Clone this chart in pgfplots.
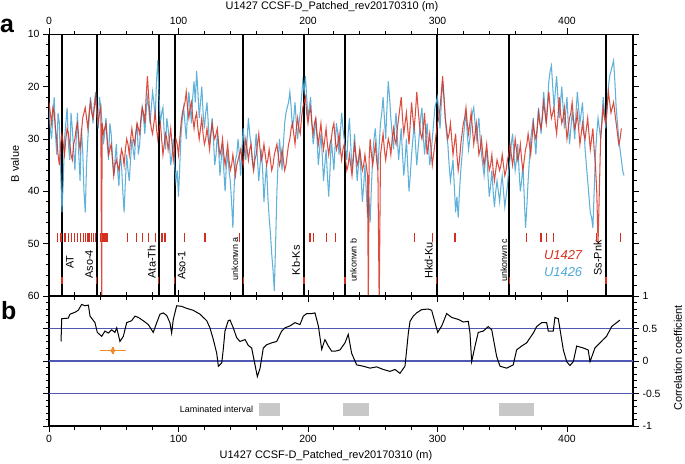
\documentclass[border=0pt]{standalone}
\usepackage{fontspec}
\setmainfont{Liberation Sans}
\usepackage{pgfplots}
\pgfplotsset{compat=1.18}
\definecolor{cred}{RGB}{214,46,30}
\definecolor{cblue}{RGB}{78,168,214}
\definecolor{cnavy}{RGB}{80,88,180}
\definecolor{corange}{RGB}{242,140,40}
\definecolor{cgray}{RGB}{200,200,200}
\pgfplotsset{
 common/.style={
  scale only axis, width=584bp, xmin=0, xmax=451,
  axis line style={line width=1.1bp},
  tick style={line width=0.9bp, black},
  major tick length=6bp, minor tick length=3.5bp,
  tick align=outside,
  xtick={0,100,...,400}, minor x tick num=4,
  tick label style={font=\fontsize{10.5}{12}\selectfont},
  /pgf/number format/assume math mode=true,
 }
}
\begin{document}
\begin{tikzpicture}
\useasboundingbox (0,0) rectangle (685bp,464bp);
% ---------------- panel a ----------------
\begin{axis}[common, at={(49bp,168bp)}, anchor=south west, height=261.7bp,
  y dir=reverse, ymin=10, ymax=60, ytick={10,20,...,60}, minor y tick num=4,
  xtick pos=both, xticklabel pos=top, ytick pos=both, yticklabel pos=left,
  unbounded coords=jump]
\addplot[black, line width=1.8bp] coordinates {(10,10)(10,60)(10,nan)(36.8,10)(36.8,60)(36.8,nan)(84.7,10)(84.7,60)(84.7,nan)(97,10)(97,60)(97,nan)(150,10)(150,60)(150,nan)(197,10)(197,60)(197,nan)(228.6,10)(228.6,60)(228.6,nan)(299.4,10)(299.4,60)(299.4,nan)(355.4,10)(355.4,60)(355.4,nan)(430,10)(430,60)};
% U1426
\addplot[cblue, line width=1.05bp, opacity=0.9] coordinates {
(0,24)(1,28)(2,30)(3,26)(4,22)(5,29)(6,33)(7,25)(8,27)(9,36)(10,44)(11,38)(12,30)(13,27)(14,24)(15,31)(16,34)(17,25)(18,28)(19,32)(20,36)(21,30)(22,25)(23,33)(24,38)(25,28)(26,32)(27,40)(28,44)(29,35)(30,30)(31,26)(32,22)(33,24)(34,27)(35,23)(36,21)(37,25)(38,28)(39,22)
(40,24)(41,27)(42,31)(43,29)(44,26)(45,31)(46,34)(47,27)(48,29)(49,33)(50,37)(51,34)(52,31)(53,36)(54,39)(55,33)(56,35)(57,40)(58,44)(59,38)(60,33)(61,36)(62,38)(63,34)(64,30)(65,32)(66,34)(67,29)(68,27)(69,33)(70,31)(71,27)(72,24)(73,26)(74,29)(75,25)(76,22)(77,24)(78,27)(79,24)
(80,21)(81,23)(82,26)(83,19)(84,15)(85,22)(86,27)(87,25)(88,24)(89,29)(90,32)(91,26)(92,28)(93,31)(94,35)(95,33)(96,30)(97,35)(98,38)(99,36)(100,41)(101,35)(102,29)(103,26)(104,24)(105,27)(106,30)(107,25)(108,21)(109,24)(110,27)(111,22)(112,19)(113,23)(114,17)(115,21)(116,26)(117,23)(118,20)(119,25)
(120,28)(121,25)(122,23)(123,27)(124,31)(125,29)(126,26)(127,30)(128,35)(129,33)(130,29)(131,32)(132,37)(133,34)(134,31)(135,36)(136,40)(137,35)(138,33)(139,36)(140,38)(141,42)(142,47)(143,39)(144,34)(145,33)(146,30)(147,33)(148,37)(149,32)(150,28)(151,31)(152,34)(153,30)(154,26)(155,29)(156,31)(157,34)(158,36)(159,32)
(160,29)(161,34)(162,38)(163,35)(164,32)(165,36)(166,42)(167,38)(168,35)(169,41)(170,45)(171,48)(172,52)(173,55)(174,59)(175,50)(176,40)(177,34)(178,30)(179,33)(180,36)(181,31)(182,27)(183,25)(184,24)(185,23)(186,21)(187,24)(188,28)(189,26)(190,23)(191,27)(192,30)(193,27)(194,25)(195,22)(196,19)(197,21)(198,18)(199,22)
(200,26)(201,24)(202,22)(203,27)(204,31)(205,29)(206,26)(207,30)(208,35)(209,32)(210,29)(211,33)(212,38)(213,35)(214,32)(215,37)(216,41)(217,36)(218,30)(219,33)(220,36)(221,31)(222,27)(223,29)(224,33)(225,29)(226,25)(227,28)(228,30)(229,32)(230,34)(231,29)(232,26)(233,31)(234,36)(235,33)(236,29)(237,34)(238,38)(239,35)
(240,32)(241,37)(242,42)(243,39)(244,35)(245,40)(246,45)(247,41)(248,46)(249,39)(250,33)(251,30)(252,28)(253,32)(254,36)(255,31)(256,27)(257,25)(258,22)(259,26)(260,30)(261,24)(262,19)(263,22)(264,26)(265,29)(266,32)(267,28)(268,25)(269,30)(270,34)(271,31)(272,28)(273,33)(274,37)(275,34)(276,30)(277,35)(278,40)(279,37)
(280,33)(281,30)(282,27)(283,31)(284,35)(285,32)(286,29)(287,26)(288,24)(289,29)(290,33)(291,30)(292,27)(293,31)(294,35)(295,33)(296,30)(297,27)(298,24)(299,23)(300,22)(301,25)(302,28)(303,23)(304,19)(305,22)(306,26)(307,29)(308,31)(309,35)(310,38)(311,36)(312,34)(313,39)(314,44)(315,41)(316,45)(317,40)(318,36)(319,33)
(320,30)(321,27)(322,25)(323,29)(324,32)(325,30)(326,27)(327,25)(328,24)(329,27)(330,30)(331,28)(332,26)(333,30)(334,33)(335,35)(336,37)(337,34)(338,32)(339,37)(340,41)(341,39)(342,36)(343,40)(344,43)(345,40)(346,38)(347,40)(348,42)(349,39)(350,37)(351,40)(352,43)(353,41)(354,39)(355,36)(356,34)(357,31)(358,29)(359,33)
(360,36)(361,34)(362,31)(363,36)(364,40)(365,38)(366,35)(367,41)(368,47)(369,43)(370,38)(371,34)(372,30)(373,28)(374,26)(375,30)(376,33)(377,28)(378,24)(379,26)(380,29)(381,25)(382,21)(383,24)(384,27)(385,23)(386,19)(387,17)(388,16)(389,20)(390,24)(391,21)(392,18)(393,22)(394,26)(395,23)(396,20)(397,24)(398,28)(399,25)
(400,22)(401,27)(402,31)(403,28)(404,25)(405,27)(406,30)(407,25)(408,21)(409,24)(410,27)(411,25)(412,23)(413,28)(414,32)(415,35)(416,38)(417,41)(418,44)(419,45)(420,47)(421,40)(422,33)(423,29)(424,26)(425,28)(426,30)(427,26)(428,22)(429,25)(430,28)(431,24)(432,20)(433,18)(434,17)(435,16)(436,15)(437,19)(438,24)(439,27)
(440,30)(441,32)(442,34)(443,36)(444,37)};
% U1427
\addplot[cred, line width=1.05bp, opacity=0.85] coordinates {
(0,23)(1,25)(2,27)(3,24)(4,25)(5,28)(6,30)(7,33)(8,35)(9,31)(10,29)(11,31)(12,33)(13,30)(14,28)(15,29)(16,31)(17,33)(18,34)(19,31)(20,30)(21,28)(22,27)(23,30)(24,32)(25,29)(26,26)(27,25)(28,24)(29,26)(30,28)(31,25)(32,23)(33,25)(34,26)(35,24)(36,22)(37,25)(38,27)(39,25)
(40,24)(40.7,62)(41,27)(42,29)(43,28)(44,27)(45,30)(46,33)(47,32)(48,31)(49,34)(50,37)(51,35)(52,34)(53,35)(54,36)(55,34)(56,32)(57,33)(58,35)(59,32)(60,30)(61,31)(62,33)(63,30)(64,28)(65,30)(66,31)(67,29)(68,27)(69,28)(70,29)(71,26)(72,24)(73,25)(74,27)(75,22)(76,18)(77,22)(78,26)(79,28)
(80,29)(81,27)(82,25)(83,28)(84,30)(85,28)(86,27)(87,30)(88,33)(89,31)(90,29)(91,30)(92,32)(93,30)(94,28)(95,31)(96,34)(97,32)(98,30)(99,31)(100,33)(101,30)(102,27)(103,25)(104,24)(105,23)(106,21)(107,24)(108,26)(109,24)(110,23)(111,26)(112,28)(113,26)(114,25)(115,28)(116,30)(117,28)(118,26)(119,29)
(120,31)(121,30)(122,28)(123,30)(124,32)(125,29)(126,27)(127,29)(128,30)(129,29)(130,28)(131,31)(132,33)(133,32)(134,30)(135,33)(136,35)(137,33)(138,31)(139,34)(140,36)(141,35)(142,33)(143,35)(144,37)(145,35)(146,34)(147,33)(148,32)(149,34)(150,35)(151,32)(152,30)(153,32)(154,34)(155,32)(156,31)(157,34)(158,36)(159,34)
(160,33)(161,31)(162,29)(163,32)(164,34)(165,33)(166,31)(167,33)(168,35)(169,34)(170,32)(171,34)(172,36)(173,35)(174,33)(175,32)(176,31)(177,33)(178,35)(179,34)(180,32)(181,34)(182,36)(183,35)(184,33)(185,31)(186,30)(187,28)(188,27)(189,29)(190,31)(191,28)(192,26)(193,28)(194,29)(195,26)(196,24)(197,23)(198,22)(199,25)
(200,27)(201,25)(202,24)(203,27)(204,29)(205,27)(206,26)(207,29)(208,31)(209,29)(210,27)(211,30)(212,32)(213,30)(214,28)(215,31)(216,33)(217,31)(218,30)(219,28)(220,27)(221,30)(222,32)(223,31)(224,29)(225,32)(226,34)(227,32)(228,31)(229,34)(230,36)(231,35)(232,33)(233,35)(234,37)(235,34)(236,31)(237,33)(238,35)(239,34)
(240,32)(241,34)(242,36)(243,35)(244,33)(245,35)(246,37)(246.6,62)(247.2,34)(248,30)(249,33)(250,35)(251,33)(252,31)(253,34)(254,36)(255,62)(256,33)(257,31)(258,29)(259,32)(260,34)(261,32)(262,30)(263,31)(264,33)(265,30)(266,28)(267,30)(268,31)(269,28)(270,26)(271,24)(272,22)(273,26)(274,29)(275,27)(276,25)(277,28)(278,31)(279,27)
(280,23)(281,26)(282,28)(283,25)(284,21)(285,24)(286,27)(287,29)(288,30)(289,28)(290,25)(291,29)(292,33)(293,31)(294,29)(295,32)(296,35)(297,33)(298,31)(299,29)(300,27)(301,26)(302,24)(303,21)(304,18)(305,22)(306,26)(307,28)(308,30)(309,29)(310,27)(311,30)(312,33)(313,31)(314,29)(315,33)(316,36)(317,34)(318,31)(319,29)
(320,27)(321,26)(322,24)(323,27)(324,29)(325,27)(326,25)(327,28)(328,31)(329,29)(330,27)(331,30)(332,33)(333,32)(334,30)(335,33)(336,35)(337,33)(338,31)(339,34)(340,36)(341,35)(342,33)(343,36)(344,38)(345,36)(346,34)(347,35)(348,36)(349,35)(350,33)(351,35)(352,37)(353,36)(354,34)(355,33)(356,31)(357,33)(358,35)(359,33)
(360,30)(361,32)(362,34)(363,33)(364,31)(365,34)(366,36)(367,34)(368,32)(369,31)(370,29)(371,31)(372,33)(373,30)(374,27)(375,29)(376,30)(377,28)(378,25)(379,27)(380,28)(381,26)(382,23)(383,25)(384,27)(385,24)(386,21)(387,24)(388,26)(389,25)(390,24)(391,27)(392,29)(393,26)(394,22)(395,25)(396,27)(397,26)(398,24)(399,27)
(400,30)(401,28)(402,26)(403,25)(404,23)(405,26)(406,28)(407,27)(408,25)(409,28)(410,31)(411,29)(412,27)(413,29)(414,30)(415,28)(416,26)(417,29)(418,32)(419,30)(420,28)(421,32)(422,35)(423,40)(424,50)(425,40)(426,30)(427,27)(428,24)(429,26)(430,27)(431,24)(432,21)(433,23)(434,25)(435,24)(436,23)(437,25)(438,27)(439,29)
(440,31)(441,30)(442,28)};
% red event dashes
\addplot[cred, only marks, mark=|, mark size=4.5bp, mark options={line width=1.4bp}] coordinates {
(6.5,48.85)(9.3,48.85)(12.4,48.85)(15,48.85)(17.3,48.85)(19.5,48.85)(21.9,48.85)(24.5,48.85)(26.7,48.85)(28.3,48.85)(30,48.85)(31.3,48.85)(33,48.85)(34.5,48.85)(35.8,48.85)
(39.9,48.85)(41.2,48.85)(42.6,48.85)(44,48.85)(45.4,48.85)(60.7,48.85)(67.7,48.85)(72,48.85)(76.9,48.85)(82.4,48.85)(87.3,48.85)(89.6,48.85)(104.8,48.85)(120.5,48.85)(147,48.85)
(201.5,48.85)(204.4,48.85)(214.4,48.85)(221.3,48.85)(282.3,48.85)(296.3,48.85)(313.5,48.85)(368.9,48.85)(380,48.85)(384.3,48.85)(389.4,48.85)(423,48.85)(441.2,48.85)};
% red marks on tephra lines
\addplot[cred, only marks, mark=|, mark size=3.5bp, mark options={line width=1.4bp}] coordinates {
(10,57.1)(36.8,57.1)(84.7,57.1)(97,57.1)(150,57.1)(197,57.1)(228.6,57.1)(299.4,57.1)(355.4,57.1)(430,57.1)};
% tephra labels
\node[rotate=90, anchor=east, inner sep=0, font=\fontsize{11}{12}\selectfont] at (axis cs:16.2,52.2) {AT};
\node[rotate=90, anchor=east, inner sep=0, font=\fontsize{11}{12}\selectfont] at (axis cs:31.0,51.2) {Aso-4};
\node[rotate=90, anchor=east, inner sep=0, font=\fontsize{11}{12}\selectfont] at (axis cs:79.3,50.3) {Ata-Th};
\node[rotate=90, anchor=east, inner sep=0, font=\fontsize{11}{12}\selectfont] at (axis cs:102.5,51.4) {Aso-1};
\node[rotate=90, anchor=east, inner sep=0, font=\fontsize{9}{10}\selectfont] at (axis cs:143.6,48.7) {unkonwn a};
\node[rotate=90, anchor=east, inner sep=0, font=\fontsize{11}{12}\selectfont] at (axis cs:190.7,50.3) {Kb-Ks};
\node[rotate=90, anchor=east, inner sep=0, font=\fontsize{9}{10}\selectfont] at (axis cs:235,49.0) {unkonwn b};
\node[rotate=90, anchor=east, inner sep=0, font=\fontsize{11}{12}\selectfont] at (axis cs:293.2,49.7) {Hkd-Ku};
\node[rotate=90, anchor=east, inner sep=0, font=\fontsize{9}{10}\selectfont] at (axis cs:351.4,49.0) {unkonwn c};
\node[rotate=90, anchor=east, inner sep=0, font=\fontsize{11}{12}\selectfont] at (axis cs:423.7,49.3) {Ss-Pnk};
% legend
\node[text=cred, font=\fontsize{13}{15}\selectfont\itshape] at (axis cs:397,52.2) {U1427};
\node[text=cblue, font=\fontsize{13}{15}\selectfont\itshape] at (axis cs:397,55.4) {U1426};
\end{axis}
% ---------------- panel b ----------------
\begin{axis}[common, at={(49bp,38bp)}, anchor=south west, height=130bp,
  ymin=-1, ymax=1, ytick={-1,-0.5,0,0.5,1}, yticklabels={-1,-0.5,0,0.5,1}, minor y tick num=4,
  xtick pos=both, xticklabel pos=bottom, ytick pos=both, yticklabel pos=right]
\addplot[cnavy, line width=1.2bp] coordinates {(0,0.5)(451,0.5)};
\addplot[cnavy, line width=1.2bp] coordinates {(0,0)(451,0)};
\addplot[cnavy, line width=1.2bp] coordinates {(0,-0.5)(451,-0.5)};
\addplot[fill=cgray, draw=none] coordinates {(162.4,-0.65)(178.4,-0.65)(178.4,-0.85)(162.4,-0.85)};
\addplot[fill=cgray, draw=none] coordinates {(226.8,-0.65)(247.3,-0.65)(247.3,-0.85)(226.8,-0.85)};
\addplot[fill=cgray, draw=none] coordinates {(347.7,-0.65)(374.5,-0.65)(374.5,-0.85)(347.7,-0.85)};
\addplot[black, line width=1bp] coordinates {
(9.3,0.30)(9.8,0.65)(14.9,0.66)(16.2,0.72)(20.1,0.75)(22.6,0.78)(25.2,0.87)(27.8,0.85)(30.4,0.86)(31.7,0.69)(35.5,0.59)(37.3,0.44)(40.7,0.38)(43.2,0.46)(45.8,0.43)(48.4,0.48)(50.9,0.44)(52.3,0.51)(54.8,0.30)(57.4,0.38)(60,0.59)(63.8,0.62)(66.4,0.69)(69,0.67)(72.8,0.62)(76.7,0.56)(80.5,0.44)(83.2,0.59)(85.7,0.72)(88.3,0.74)(90.9,0.70)(93.4,0.59)(94.7,0.43)(96,0.64)(98.6,0.85)(102.5,0.84)(106.3,0.81)(111.4,0.78)(116.6,0.72)(121.8,0.62)(124.3,0.51)(126.9,0.33)(129.5,0.12)(130.8,-0.08)(133.4,-0.03)(134.6,0.18)(135.9,0.46)(138.4,0.62)(139.8,0.63)(142.3,0.51)(144.9,0.36)(147.5,0.30)(151.4,0.33)(153.9,0.24)(156.5,0.20)(159.1,-0.06)(160.9,-0.24)(163,-0.11)(165.5,0.20)(168.1,0.25)(172,0.28)(175.8,0.30)(179.7,0.46)(182.2,0.51)(186.1,0.54)(190,0.59)(193.8,0.56)(196.4,0.69)(199,0.73)(202.9,0.73)(205.4,0.74)(208,0.54)(209.3,0.36)(210.6,0.18)(213.1,0.33)(215.7,0.23)(218.3,0.15)(220.8,0.15)(224.7,0.17)(228.6,0.28)(231.1,0.41)(233.7,0.12)(237.6,-0.06)(242.7,-0.08)(247.9,-0.11)(253,-0.09)(258.1,-0.13)(263.3,-0.16)(267.2,-0.13)(271,-0.19)(274.9,-0.08)(276.2,0.17)(277.5,0.43)(278.8,0.61)(281.3,0.69)(283.9,0.74)(287.8,0.79)(292.9,0.80)(295.5,0.78)(298.1,0.59)(300.2,0.44)(303.3,0.54)(307.1,0.73)(311,0.67)(316.1,0.64)(319.9,0.60)(323.8,0.61)(325.1,0.43)(326.4,-0.01)(329,0.23)(331.5,0.44)(335.4,0.46)(339.2,0.53)(341.9,0.48)(345.7,0.07)(348.3,-0.08)(353.4,-0.11)(358.5,-0.06)(361.1,0.17)(365,0.23)(368.9,0.28)(374,0.43)(376.6,0.53)(380.5,0.59)(384.3,0.59)(385.6,0.46)(389.4,0.46)(390.7,0.67)(393.3,0.65)(397.2,0.17)(399.8,-0.01)(402.3,-0.07)(404.9,-0.01)(407.5,0.23)(412.6,0.20)(416.4,0.17)(417.8,-0.01)(421.6,0.20)(428,0.33)(430.6,0.38)(434.5,0.53)(440.9,0.63)};
\addplot[corange, only marks, mark=none, error bars/.cd, x dir=both, x explicit, y dir=both, y explicit, error mark=none, error bar style={line width=1.8bp, corange}] coordinates {(49.2,0.16) +- (10.1,0.06)};
\node[anchor=east, inner sep=0, font=\fontsize{9}{10}\selectfont] at (axis cs:157.8,-0.74) {Laminated interval};
\end{axis}
% outer labels
\node[font=\fontsize{11}{12}\selectfont] at (332bp,457bp) {U1427 CCSF-D\_Patched\_rev20170310 (m)};
\node[font=\fontsize{11}{12}\selectfont] at (326bp,8bp) {U1427 CCSF-D\_Patched\_rev20170310 (m)};
\node[rotate=90, font=\fontsize{11}{12}\selectfont] at (15bp,300bp) {B value};
\node[rotate=90, font=\fontsize{11}{12}\selectfont] at (678bp,106bp) {Correlation coefficient};
\node[anchor=base west, inner sep=0, font=\fontsize{25}{28}\selectfont\bfseries] at (0bp,431bp) {a};
\node[anchor=base west, inner sep=0, font=\fontsize{25}{28}\selectfont\bfseries] at (1bp,144bp) {b};
\end{tikzpicture}
\end{document}
